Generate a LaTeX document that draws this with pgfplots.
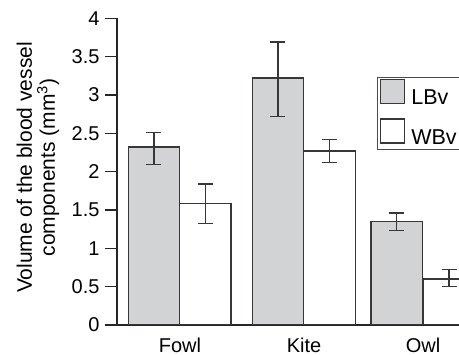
\documentclass[border=0pt]{standalone}
\usepackage{fontspec}
\setmainfont{Liberation Sans}
\usepackage{pgfplots}
\pgfplotsset{compat=1.18}
\definecolor{barfill}{RGB}{210,211,213}
\definecolor{edge}{RGB}{55,55,55}
\begin{document}
\begin{tikzpicture}[x=1pt,y=1pt]
\useasboundingbox (0,0) rectangle (459,355);
\begin{axis}[
  at={(117pt,30pt)}, anchor=south west,
  scale only axis, width=342pt, height=306.7pt,
  xmin=117, xmax=459, ymin=0, ymax=4,
  axis x line=bottom, axis y line=left,
  axis line style={-, line width=1.3pt, black!85},
  ytick={0,0.5,1,1.5,2,2.5,3,3.5,4},
  yticklabels={0,0.5,1,1.5,2,2.5,3,3.5,4},
  xtick={180,304,423}, xticklabels={Fowl,Kite,Owl},
  tick align=outside, major tick length=12pt,
  y tick style={line width=1.3pt, black!85},
  x tick style={draw=none},
  ticklabel style={font=\fontsize{20}{24}\selectfont},
  yticklabel style={xshift=-2pt},
  xticklabel style={yshift=3pt},
  /pgf/number format/assume math mode=true,
  legend cell align=left,
  legend style={at={(axis description cs:0.759,0.81)}, anchor=north west,
    draw=black!70, line width=1pt, font=\fontsize{21.5}{24}\selectfont,
    inner xsep=3pt, inner ysep=2pt, row sep=10pt, nodes={inner xsep=2pt}},
  legend image code/.code={\draw[#1, line width=1.2pt] (0pt,-5.5pt) rectangle (24pt,18.5pt); \path (28pt,0pt);},
]
\addplot[ybar, bar shift=0pt, bar width=51.5, fill=barfill, draw=edge, line width=1.3pt,
  error bars/.cd, y dir=both, y explicit,
  error bar style={line width=1.3pt, edge},
  error mark options={rotate=90, line width=1.3pt, edge, mark size=7.5pt}]
  table[x=x, y=y, y error plus=ep, y error minus=em] {
x y ep em
154 2.32 0.19 0.23
278 3.22 0.47 0.50
396.7 1.35 0.11 0.12
};
\addlegendentry{LBv}
\addplot[ybar, bar shift=0pt, bar width=51.5, fill=white, draw=edge, line width=1.3pt,
  error bars/.cd, y dir=both, y explicit,
  error bar style={line width=1.3pt, edge},
  error mark options={rotate=90, line width=1.3pt, edge, mark size=7.5pt}]
  table[x=x, y=y, y error plus=ep, y error minus=em] {
x y ep em
205.3 1.58 0.26 0.26
329.5 2.27 0.15 0.15
449 0.60 0.12 0.10
};
\addlegendentry{WBv}
\end{axis}
\node[rotate=90, align=center, font=\fontsize{21}{23}\selectfont] at (38pt,187.5pt)
  {Volume of the blood vessel\\components (mm\textsuperscript{3})};
\end{tikzpicture}
\end{document}
